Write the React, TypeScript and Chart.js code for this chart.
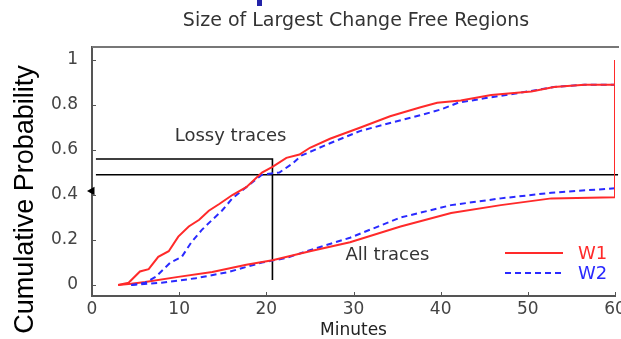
import { useEffect, useRef } from "react";
import { Chart, registerables } from "chart.js";
Chart.register(...registerables);

// ---- data ----
const xTicks = [0, 10, 20, 30, 40, 50, 60];
const yTicks = [0, 0.2, 0.4, 0.6, 0.8, 1];
const yTickLabels = ["0", "0.2", "0.4", "0.6", "0.8", "1"];

const lossyW1X = [3.0, 4.2, 5.5, 6.5, 7.6, 8.8, 9.9, 11.1, 12.3, 13.4, 14.6, 16.1, 17.7, 19.5, 20.7, 22.3, 23.8, 25, 27.3, 30.8, 34.2, 37.7, 39.6, 42.3, 45.8, 50.4, 53, 56.5, 60, 60];
const lossyW1Y = [0, 0.01, 0.06, 0.07, 0.125, 0.15, 0.215, 0.26, 0.29, 0.33, 0.36, 0.4, 0.435, 0.5, 0.525, 0.565, 0.58, 0.61, 0.65, 0.7, 0.75, 0.79, 0.81, 0.82, 0.845, 0.86, 0.88, 0.89, 0.89, 1.0];

const lossyW2X = [4.5, 6.1, 7.3, 9.0, 10.3, 11.4, 12.6, 13.8, 14.9, 16.1, 17.7, 19.5, 21.5, 23, 24, 27.3, 30.8, 34.2, 37.7, 40, 42, 45, 48.4, 53, 56.5, 60, 60];
const lossyW2Y = [0, 0.01, 0.036, 0.1, 0.125, 0.19, 0.245, 0.29, 0.33, 0.385, 0.435, 0.49, 0.5, 0.54, 0.575, 0.63, 0.685, 0.72, 0.755, 0.78, 0.81, 0.83, 0.85, 0.88, 0.89, 0.89, 1.0];

const allW1X = [3.0, 4.5, 6.1, 9.9, 13.8, 17.7, 20.7, 25, 29.6, 35.4, 41.2, 46.9, 52.7, 60, 60];
const allW1Y = [0, 0.005, 0.013, 0.036, 0.058, 0.09, 0.11, 0.15, 0.19, 0.26, 0.32, 0.355, 0.385, 0.39, 1.0];

const allW2X = [4.5, 8, 11.9, 15.7, 19.5, 22.3, 25, 29.6, 35.4, 41.2, 46.9, 52.7, 60, 60];
const allW2Y = [0, 0.01, 0.03, 0.058, 0.1, 0.12, 0.155, 0.21, 0.3, 0.355, 0.385, 0.41, 0.43, 1.0];

// guide lines (x, y in data units)
const guide1X = [0.45, 20.7, 20.7];
const guide1Y = [0.56, 0.56, 0.022];
const guide2X = [0.45, 60.35];
const guide2Y = [0.49, 0.49];
const arrowX = [0.0];
const arrowY = [0.418];

const annotations = [
  { text: "Lossy traces", x: 15.9, y: 0.66 },
  { text: "All traces", x: 33.9, y: 0.133 },
];
const seriesNames = ["W1", "W2"];

const RED = "#ff2a2a";
const BLUE = "#2a2aff";

const pts = (xs: number[], ys: number[]) => xs.map((x, i) => ({ x, y: ys[i] }));

const decor = {
  id: "decor",
  afterDraw(chart: any) {
    const { ctx, chartArea: a, scales } = chart;
    const xs = scales.x, ys = scales.y;
    ctx.save();
    // top border
    ctx.strokeStyle = "#777";
    ctx.lineWidth = 2;
    ctx.beginPath();
    ctx.moveTo(a.left, a.top);
    ctx.lineTo(a.right + 4, a.top);
    ctx.stroke();
    // inner tick marks
    ctx.strokeStyle = "#555";
    ctx.lineWidth = 1;
    ctx.beginPath();
    xTicks.forEach((v) => {
      const px = Math.round(xs.getPixelForValue(v)) + 0.5;
      ctx.moveTo(px, a.bottom);
      ctx.lineTo(px, a.bottom - 4);
    });
    yTicks.forEach((v) => {
      const py = Math.round(ys.getPixelForValue(v)) + 0.5;
      ctx.moveTo(a.left, py);
      ctx.lineTo(a.left + 4, py);
    });
    ctx.stroke();

    // chart title
    ctx.fillStyle = "#333";
    ctx.font = "19px 'DejaVu Sans'";
    ctx.textAlign = "center";
    ctx.textBaseline = "alphabetic";
    ctx.fillText("Size of Largest Change Free Regions", 356, 26);

    // y title
    ctx.save();
    ctx.translate(33, 199.5);
    ctx.rotate(-Math.PI / 2);
    ctx.fillStyle = "#000";
    ctx.font = "27px 'Liberation Sans'";
    ctx.textAlign = "center";
    ctx.fillText("Cumulative Probability", 0, 0);
    ctx.restore();

    // annotations
    ctx.fillStyle = "#333";
    ctx.font = "18px 'DejaVu Sans'";
    ctx.textAlign = "center";
    ctx.textBaseline = "middle";
    annotations.forEach((an) => {
      ctx.fillText(an.text, xs.getPixelForValue(an.x), ys.getPixelForValue(an.y));
    });

    // legend
    const lx0 = a.right - 110, lx1 = a.right - 52, tx = a.right - 37;
    const ly = [a.bottom - 43, a.bottom - 23];
    [RED, BLUE].forEach((c, i) => {
      ctx.strokeStyle = c;
      ctx.lineWidth = 2;
      ctx.setLineDash(i === 0 ? [] : [6, 4]);
      ctx.beginPath();
      ctx.moveTo(lx0, ly[i]);
      ctx.lineTo(lx1, ly[i]);
      ctx.stroke();
      ctx.setLineDash([]);
      ctx.fillStyle = c;
      ctx.textAlign = "left";
      ctx.fillText(seriesNames[i], tx, ly[i] + 1);
    });

    // small blue fragment at the top
    ctx.fillStyle = "#2323a8";
    ctx.fillRect(257, 0, 5, 6);
    ctx.restore();
  },
};

export default function App() {
  const ref = useRef<HTMLCanvasElement | null>(null);
  useEffect(() => {
    if (!ref.current) return;
    const chart = new Chart(ref.current, {
      type: "line",
      data: {
        datasets: [
          { data: pts(lossyW1X, lossyW1Y), borderColor: RED, borderWidth: 2, pointRadius: 0 },
          { data: pts(lossyW2X, lossyW2Y), borderColor: BLUE, borderWidth: 2, borderDash: [6, 4], pointRadius: 0 },
          { data: pts(allW1X, allW1Y), borderColor: RED, borderWidth: 2, pointRadius: 0 },
          { data: pts(allW2X, allW2Y), borderColor: BLUE, borderWidth: 2, borderDash: [6, 4], pointRadius: 0 },
          { data: pts(guide1X, guide1Y), borderColor: "#000", borderWidth: 1.6, pointRadius: 0, clip: false as any },
          { data: pts(guide2X, guide2Y), borderColor: "#000", borderWidth: 1.6, pointRadius: 0, clip: false as any },
          {
            data: pts(arrowX, arrowY), showLine: false, pointStyle: "triangle", rotation: 270,
            pointRadius: 5, backgroundColor: "#000", borderColor: "#000", borderWidth: 0, clip: false as any,
          },
        ] as any,
      },
      options: {
        responsive: false,
        animation: false,
        devicePixelRatio: 1,
        layout: { padding: { left: 0, right: 6, top: 47, bottom: 0 } },
        plugins: { legend: { display: false }, tooltip: { enabled: false }, title: { display: false } },
        scales: {
          x: {
            type: "linear",
            min: 0,
            max: 60,
            afterBuildTicks: (s: any) => { s.ticks = xTicks.map((v) => ({ value: v })); },
            afterFit: (s: any) => { s.height = 43; s.paddingLeft = 0; s.paddingRight = 0; },
            ticks: { color: "#444", font: { family: "'DejaVu Sans'", size: 17 }, padding: 3, maxRotation: 0, autoSkip: false },
            grid: { display: true, drawOnChartArea: false, drawTicks: false },
            border: { display: true, color: "#555", width: 2 },
            title: { display: true, text: "Minutes", color: "#222", font: { family: "'DejaVu Sans'", size: 17, lineHeight: 1 }, padding: { top: 0, bottom: 0 } },
          },
          y: {
            type: "linear",
            min: -0.049,
            max: 1.058,
            afterBuildTicks: (s: any) => { s.ticks = yTicks.map((v) => ({ value: v })); },
            afterFit: (s: any) => { s.width = 92; s.paddingTop = 0; s.paddingBottom = 0; },
            ticks: {
              color: "#444", font: { family: "'DejaVu Sans'", size: 17 }, padding: 14, autoSkip: false,
              callback: (v: any) => { const i = yTicks.indexOf(Number(v)); return i >= 0 ? yTickLabels[i] : ""; },
            },
            grid: { display: true, drawOnChartArea: false, drawTicks: false },
            border: { display: true, color: "#555", width: 2 },
          },
        },
      } as any,
      plugins: [decor],
    });
    return () => chart.destroy();
  }, []);
  return (
    <div style={{ position: "absolute", left: 0, top: 0, width: 621, height: 339, background: "#fff" }}>
      <canvas ref={ref} width={621} height={339} style={{ display: "block" }} />
    </div>
  );
}
